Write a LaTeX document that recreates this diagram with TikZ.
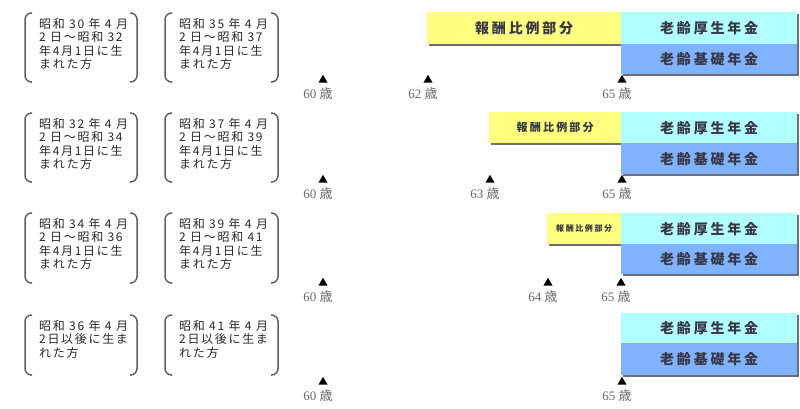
\documentclass[tikz,border=0pt]{standalone}
\usepackage{fontspec}
\setmainfont{Liberation Serif}
\newfontfamily\jp{Noto Sans CJK JP}
\newfontfamily\jpls[LetterSpace=20]{Noto Sans CJK JP}
\newfontfamily\jpbr[LetterSpace=14]{Noto Sans CJK JP}
\usetikzlibrary{shapes.geometric,shadows}
\definecolor{yel}{RGB}{255,255,128}
\definecolor{cya}{RGB}{178,255,255}
\definecolor{blu}{RGB}{128,178,255}
\definecolor{shgray}{RGB}{110,110,120}
\definecolor{brkgray}{RGB}{95,95,95}
\definecolor{txtgray}{RGB}{40,40,40}
\definecolor{boxtxt}{RGB}{55,55,70}
\definecolor{agegray}{RGB}{105,105,105}
\newcommand\brkpair[4]{%
  \draw[brk] (#1+7,#2) -- (#1,#2) -- (#1,#4) -- (#1+7,#4);
  \draw[brk] (#3-7,#2) -- (#3,#2) -- (#3,#4) -- (#3-7,#4);}
\begin{document}
\begin{tikzpicture}[x=1pt,y=-1pt,
  brk/.style={draw=brkgray, line width=1.5pt, rounded corners=6.5pt},
  btext/.style={anchor=north west, inner sep=0pt, align=left,
    font=\jpbr\fontsize{12}{13.5}\selectfont, text=txtgray},
  bar/.style={anchor=north west, inner sep=0pt, draw=none,
    drop shadow={shadow xshift=1.3pt, shadow yshift=-1.3pt, fill=shgray, opacity=1},
    text=boxtxt},
  big/.style={font=\jpls\bfseries\fontsize{14}{16}\selectfont},
  tri/.style={regular polygon, regular polygon sides=3, fill=black, draw=none,
    inner sep=0pt, minimum size=10.5pt},
  age/.style={anchor=north, inner sep=0pt, font=\fontsize{13}{14}\selectfont, text=agegray}]
\useasboundingbox (0,0) rectangle (800,408);

% ---------- bracket boxes ----------
\brkpair{25}{13}{137}{82}
\brkpair{165}{13}{278}{82}
\brkpair{25}{113}{137}{182}
\brkpair{165}{113}{278}{182}
\brkpair{25}{213}{137}{283}
\brkpair{165}{213}{278}{283}
\brkpair{25}{315}{137}{375}
\brkpair{165}{315}{278}{375}

\node[btext] (b11) at (39,18) {昭和 30 年 4 月\\2 日～昭和 32\\年4月1日に生\\まれた方};
\node[btext] (b12) at (179,18) {昭和 35 年 4 月\\2 日～昭和 37\\年4月1日に生\\まれた方};
\node[btext] (b21) at (39,118) {昭和 32 年 4 月\\2 日～昭和 34\\年4月1日に生\\まれた方};
\node[btext] (b22) at (179,118) {昭和 37 年 4 月\\2 日～昭和 39\\年4月1日に生\\まれた方};
\node[btext] (b31) at (39,218) {昭和 34 年 4 月\\2 日～昭和 36\\年4月1日に生\\まれた方};
\node[btext] (b32) at (179,218) {昭和 39 年 4 月\\2 日～昭和 41\\年4月1日に生\\まれた方};
\node[btext] (b41) at (39,320) {昭和 36 年 4 月\\2日以後に生ま\\れた方};
\node[btext] (b42) at (179,320) {昭和 41 年 4 月\\2日以後に生ま\\れた方};

% ---------- row 1 ----------
\node[bar, big, fill=yel, minimum width=194pt, minimum height=32pt] (y1) at (427,12) {報酬比例部分};
\node[bar, big, fill=cya, minimum width=176pt, minimum height=32pt] (c1) at (621,12) {老齢厚生年金};
\node[bar, big, fill=blu, minimum width=176pt, minimum height=30pt] (k1) at (621,44) {老齢基礎年金};
% ---------- row 2 ----------
\node[bar, fill=yel, minimum width=132pt, minimum height=31pt,
  font=\jpls\bfseries\fontsize{11}{13}\selectfont] (y2) at (489,112) {報酬比例部分};
\node[bar, big, fill=cya, minimum width=176pt, minimum height=31pt] (c2) at (621,112) {老齢厚生年金};
\node[bar, big, fill=blu, minimum width=176pt, minimum height=31pt] (k2) at (621,143) {老齢基礎年金};
% ---------- row 3 ----------
\node[bar, fill=yel, minimum width=74pt, minimum height=31pt,
  font=\jpls\bfseries\fontsize{8}{10}\selectfont] (y3) at (547,213) {報酬比例部分};
\node[bar, big, fill=cya, minimum width=176pt, minimum height=31pt] (c3) at (621,213) {老齢厚生年金};
\node[bar, big, fill=blu, minimum width=176pt, minimum height=30pt] (k3) at (621,244) {老齢基礎年金};
% ---------- row 4 ----------
\node[bar, big, fill=cya, minimum width=176pt, minimum height=30pt] (c4) at (621,313) {老齢厚生年金};
\node[bar, big, fill=blu, minimum width=176pt, minimum height=32pt] (k4) at (621,343) {老齢基礎年金};

% ---------- age markers ----------
\node[tri] (t11) at (323,80) {};
\node[tri] (t12) at (428,80) {};
\node[tri] (t13) at (622,80) {};
\node[age] (a11) at (318,87) {60 {\jp 歳}};
\node[age] (a12) at (423,87) {62 {\jp 歳}};
\node[age] (a13) at (617,87) {65 {\jp 歳}};

\node[tri] (t21) at (323,180) {};
\node[tri] (t22) at (490,180) {};
\node[tri] (t23) at (622,180) {};
\node[age] (a21) at (318,187) {60 {\jp 歳}};
\node[age] (a22) at (485,187) {63 {\jp 歳}};
\node[age] (a23) at (617,187) {65 {\jp 歳}};

\node[tri] (t31) at (323,283) {};
\node[tri] (t32) at (548,283) {};
\node[tri] (t33) at (621,283) {};
\node[age] (a31) at (318,290) {60 {\jp 歳}};
\node[age] (a32) at (543,290) {64 {\jp 歳}};
\node[age] (a33) at (616,290) {65 {\jp 歳}};

\node[tri] (t41) at (323,382) {};
\node[tri] (t43) at (622,382) {};
\node[age] (a41) at (318,389) {60 {\jp 歳}};
\node[age] (a43) at (617,389) {65 {\jp 歳}};
\end{tikzpicture}
\end{document}
